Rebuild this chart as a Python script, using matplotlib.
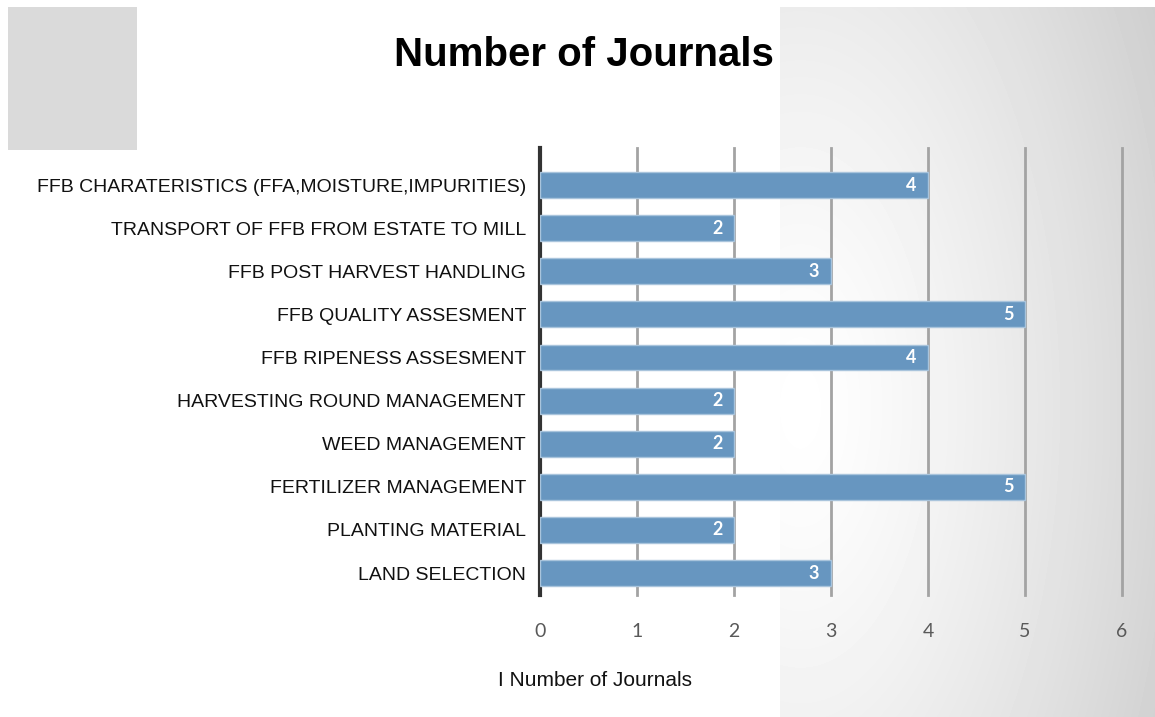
import numpy as np
import matplotlib
matplotlib.use("Agg")
import matplotlib.pyplot as plt

categories = [
    "LAND SELECTION",
    "PLANTING MATERIAL",
    "FERTILIZER MANAGEMENT",
    "WEED MANAGEMENT",
    "HARVESTING ROUND MANAGEMENT",
    "FFB RIPENESS ASSESMENT",
    "FFB QUALITY ASSESMENT",
    "FFB POST HARVEST HANDLING",
    "TRANSPORT OF FFB FROM ESTATE TO MILL",
    "FFB CHARATERISTICS (FFA,MOISTURE,IMPURITIES)",
]
journals = [3, 2, 5, 2, 2, 4, 5, 3, 2, 4]
xticks = [0, 1, 2, 3, 4, 5, 6]

plt.rcParams["font.family"] = ["Liberation Sans", "DejaVu Sans"]

W, H = 1155, 717
fig = plt.figure(figsize=(W / 100, H / 100), dpi=100)
fig.patch.set_facecolor("white")

# grey square top-left
sq = fig.add_axes([8 / W, 1 - 150 / H, 129 / W, 143 / H], zorder=0)
sq.set_facecolor("#dadada")
sq.set_xticks([]); sq.set_yticks([])
for s in sq.spines.values():
    s.set_visible(False)

# elliptical grey gradient panel on the right
bg = fig.add_axes([780 / W, 0, (W - 780) / W, 710 / H], zorder=0)
yy, xx = np.mgrid[0:710, 0:W - 780]
r = np.hypot(xx - 20, (yy - 400) * 0.5)
shade = np.clip(1.0 - 0.185 * (r / 400) ** 1.3, 0.78, 1.0)
bg.imshow(shade, cmap="gray", vmin=0, vmax=1, aspect="auto", origin="upper")
bg.set_xticks([]); bg.set_yticks([])
for s in bg.spines.values():
    s.set_visible(False)

ax = fig.add_axes([540 / W, 1 - 595 / H, 582 / W, 447 / H], zorder=2)
ax.patch.set_alpha(0)
ypos = np.arange(len(categories))
ax.barh(ypos, journals, height=0.6, color="#6796c0", edgecolor="#a9c4dc",
        linewidth=1.0, zorder=3)
for y, v in zip(ypos, journals):
    ax.text(v - 0.12, y, str(v), ha="right", va="center", color="white",
            fontsize=13, fontweight="bold", family="Lato", zorder=4)

ax.set_xlim(0, 6)
ax.set_ylim(-0.51, 9.86)
ax.set_xticks(xticks)
ax.set_xticklabels([str(t) for t in xticks], family="Lato")
ax.set_yticks(ypos)
ax.set_yticklabels(categories, fontsize=14, color="#111111")
ax.tick_params(axis="x", length=0, pad=20, labelsize=14, labelcolor="#595959")
ax.tick_params(axis="y", length=0, pad=10)
ax.grid(axis="x", color="#a3a3a3", linewidth=2, zorder=1)
for gl in ax.xaxis.get_gridlines():
    gl.set_clip_on(False)
ax.set_axisbelow(True)
for name in ["top", "right", "bottom"]:
    ax.spines[name].set_visible(False)
ax.spines["left"].set_color("#333333")
ax.spines["left"].set_linewidth(3)

fig.text(584 / W, 1 - 55 / H, "Number of Journals", ha="center", va="center",
         fontsize=29, fontweight="bold", color="black")
fig.text(595 / W, 1 - 681 / H, "I Number of Journals", ha="center", va="center",
         fontsize=15, color="#111111")

fig.savefig("out.png", dpi=100)
